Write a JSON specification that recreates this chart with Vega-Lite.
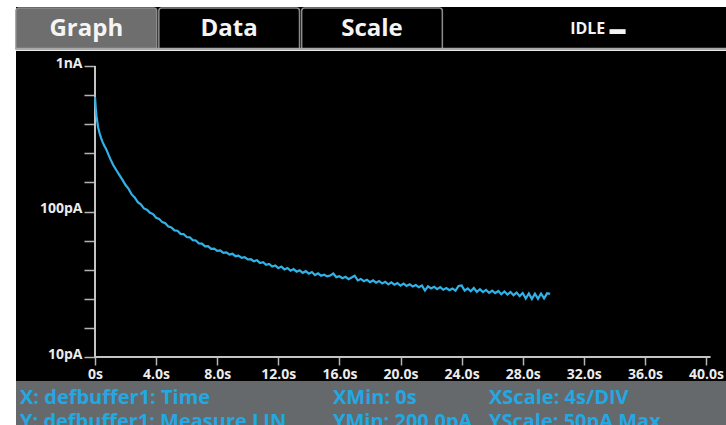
{
  "$schema": "https://vega.github.io/schema/vega-lite/v6.json",
  "background": "white",
  "padding": {"left": 14, "top": 7, "right": 0, "bottom": 0},
  "spacing": 0,
  "config": {"view": {"stroke": null}, "font": "Open Sans", "concat": {"spacing": 0}},
  "vconcat": [
    {
      "width": 712,
      "height": 43,
      "view": {"fill": "black", "stroke": null},
      "layer": [
        {
          "data": {"values": [{"tab": "Graph", "active": true}, {"tab": "Data", "active": false}, {"tab": "Scale", "active": false}]},
          "mark": {"type": "rect", "stroke": "#8c8c8c", "strokeWidth": 1.5, "cornerRadiusTopLeft": 3, "cornerRadiusTopRight": 3},
          "encoding": {
            "x": {"field": "tab", "type": "nominal", "scale": {"domain": ["Graph", "Data", "Scale", "s1", "s2"], "paddingInner": 0.015, "paddingOuter": 0}, "axis": null},
            "y": {"value": 1},
            "y2": {"value": 42},
            "fill": {"condition": {"test": "datum.active", "value": "#6e6e6e"}, "value": "#000000"}
          }
        },
        {
          "data": {"values": [{"tab": "Graph"}, {"tab": "Data"}, {"tab": "Scale"}]},
          "mark": {"type": "text", "font": "Open Sans", "fontWeight": "bold", "fontSize": 24, "color": "#f4f4f4", "baseline": "alphabetic"},
          "encoding": {
            "x": {"field": "tab", "type": "nominal", "axis": null},
            "y": {"value": 29},
            "text": {"field": "tab"}
          }
        },
        {
          "data": {"values": [{"tab": "s1", "status": "IDLE ▬"}]},
          "mark": {"type": "text", "font": "Open Sans", "fontWeight": "bold", "fontSize": 16, "color": "#f4f4f4", "baseline": "alphabetic", "align": "left", "dx": -15},
          "encoding": {
            "x": {"field": "tab", "type": "nominal", "bandPosition": 1, "axis": null},
            "y": {"value": 27},
            "text": {"field": "status"}
          }
        },
        {
          "data": {"values": [{}]},
          "mark": {"type": "rule", "color": "#a9a9a9", "strokeWidth": 2.5},
          "encoding": {"y": {"value": 42}}
        }
      ]
    },
    {
      "width": 712,
      "height": 330,
      "view": {"fill": "black", "stroke": null},
      "layer": [
        {
          "data": {"values": [{}]},
          "mark": {"type": "rule", "color": "#c4c4c4", "strokeWidth": 2},
          "encoding": {
            "x": {"datum": 0, "type": "quantitative", "scale": {"domain": [-5.172, 41.44], "nice": false, "zero": false}},
            "x2": {"datum": 40.3},
            "y": {"datum": 10, "type": "quantitative", "scale": {"type": "log", "domain": [6.84, 1268.3], "nice": false}}
          }
        },
        {
          "data": {"values": [{}]},
          "mark": {"type": "rule", "color": "#c4c4c4", "strokeWidth": 2},
          "encoding": {
            "x": {"datum": 0, "type": "quantitative", "scale": {"domain": [-5.172, 41.44], "nice": false, "zero": false}},
            "y": {"datum": 10, "type": "quantitative", "scale": {"type": "log", "domain": [6.84, 1268.3], "nice": false}},
            "y2": {"datum": 1000}
          }
        },
        {
          "data": {"values": [
            {"t": 0.0, "i": 612}, {"t": 0.05, "i": 510}, {"t": 0.1, "i": 450}, {"t": 0.2, "i": 380}, {"t": 0.3, "i": 345},
            {"t": 0.4, "i": 320}, {"t": 0.5, "i": 300}, {"t": 0.6, "i": 284}, {"t": 0.7, "i": 272}, {"t": 0.8, "i": 258},
            {"t": 0.9, "i": 243}, {"t": 1.0, "i": 230}, {"t": 1.2, "i": 208}, {"t": 1.4, "i": 192}, {"t": 1.6, "i": 178},
            {"t": 1.8, "i": 165}, {"t": 2.0, "i": 152}, {"t": 2.2, "i": 143}, {"t": 2.4, "i": 131}, {"t": 2.6, "i": 125},
            {"t": 2.8, "i": 116}, {"t": 3.0, "i": 112}, {"t": 3.2, "i": 105}, {"t": 3.4, "i": 103}, {"t": 3.6, "i": 98},
            {"t": 3.8, "i": 96}, {"t": 4.0, "i": 90.5}, {"t": 4.2, "i": 89}, {"t": 4.4, "i": 84.5}, {"t": 4.6, "i": 83},
            {"t": 4.8, "i": 78.8}, {"t": 5.0, "i": 77.8}, {"t": 5.2, "i": 74.2}, {"t": 5.4, "i": 73.8}, {"t": 5.6, "i": 70.2},
            {"t": 5.8, "i": 70.0}, {"t": 6.0, "i": 66.8}, {"t": 6.2, "i": 66.5}, {"t": 6.4, "i": 63.6}, {"t": 6.6, "i": 63.2},
            {"t": 6.8, "i": 60.3}, {"t": 7.0, "i": 60.2}, {"t": 7.2, "i": 57.6}, {"t": 7.4, "i": 57.8}, {"t": 7.6, "i": 55.4},
            {"t": 7.8, "i": 55.6}, {"t": 8.0, "i": 53.6}, {"t": 8.2, "i": 54.0}, {"t": 8.4, "i": 52.0}, {"t": 8.6, "i": 52.4},
            {"t": 8.8, "i": 50.6}, {"t": 9.0, "i": 51.2}, {"t": 9.2, "i": 49.3}, {"t": 9.4, "i": 49.8}, {"t": 9.6, "i": 48.0},
            {"t": 9.8, "i": 48.5}, {"t": 10.0, "i": 46.8}, {"t": 10.2, "i": 47.0}, {"t": 10.4, "i": 45.5}, {"t": 10.6, "i": 46.2},
            {"t": 10.8, "i": 44.2}, {"t": 11.0, "i": 44.8}, {"t": 11.2, "i": 43.0}, {"t": 11.4, "i": 43.6}, {"t": 11.6, "i": 41.9},
            {"t": 11.8, "i": 42.6}, {"t": 12.0, "i": 40.8}, {"t": 12.2, "i": 41.8}, {"t": 12.4, "i": 40.0}, {"t": 12.6, "i": 40.9},
            {"t": 12.8, "i": 39.2}, {"t": 13.0, "i": 40.2}, {"t": 13.2, "i": 38.6}, {"t": 13.4, "i": 39.4}, {"t": 13.6, "i": 37.9},
            {"t": 13.8, "i": 38.9}, {"t": 14.0, "i": 37.4}, {"t": 14.2, "i": 38.4}, {"t": 14.4, "i": 36.6}, {"t": 14.6, "i": 37.6},
            {"t": 14.8, "i": 36.2}, {"t": 15.0, "i": 36.8}, {"t": 15.2, "i": 35.8}, {"t": 15.4, "i": 36.3}, {"t": 15.6, "i": 37.5},
            {"t": 15.8, "i": 35.4}, {"t": 16.0, "i": 35.9}, {"t": 16.2, "i": 34.8}, {"t": 16.4, "i": 35.6}, {"t": 16.6, "i": 34.3},
            {"t": 16.8, "i": 35.2}, {"t": 17.0, "i": 36.2}, {"t": 17.2, "i": 33.6}, {"t": 17.4, "i": 34.4}, {"t": 17.6, "i": 33.2},
            {"t": 17.8, "i": 34.0}, {"t": 18.0, "i": 32.7}, {"t": 18.2, "i": 33.6}, {"t": 18.4, "i": 32.4}, {"t": 18.6, "i": 33.3},
            {"t": 18.8, "i": 32.0}, {"t": 19.0, "i": 32.9}, {"t": 19.2, "i": 31.6}, {"t": 19.4, "i": 32.6}, {"t": 19.6, "i": 31.4},
            {"t": 19.8, "i": 32.2}, {"t": 20.0, "i": 30.9}, {"t": 20.2, "i": 31.9}, {"t": 20.4, "i": 30.8}, {"t": 20.6, "i": 31.6},
            {"t": 20.8, "i": 30.5}, {"t": 21.0, "i": 31.2}, {"t": 21.2, "i": 30.2}, {"t": 21.4, "i": 31.0}, {"t": 21.6, "i": 28.6},
            {"t": 21.8, "i": 30.6}, {"t": 22.0, "i": 29.6}, {"t": 22.2, "i": 30.4}, {"t": 22.4, "i": 29.3}, {"t": 22.6, "i": 30.2},
            {"t": 22.8, "i": 29.0}, {"t": 23.0, "i": 29.8}, {"t": 23.2, "i": 28.8}, {"t": 23.4, "i": 29.6}, {"t": 23.6, "i": 28.6},
            {"t": 23.8, "i": 30.8}, {"t": 24.0, "i": 31.0}, {"t": 24.2, "i": 28.6}, {"t": 24.4, "i": 29.6}, {"t": 24.6, "i": 28.3},
            {"t": 24.8, "i": 29.8}, {"t": 25.0, "i": 28.0}, {"t": 25.2, "i": 29.2}, {"t": 25.4, "i": 27.9}, {"t": 25.6, "i": 28.9},
            {"t": 25.8, "i": 27.6}, {"t": 26.0, "i": 28.6}, {"t": 26.2, "i": 27.5}, {"t": 26.4, "i": 28.4}, {"t": 26.6, "i": 27.0},
            {"t": 26.8, "i": 28.2}, {"t": 27.0, "i": 26.9}, {"t": 27.2, "i": 28.0}, {"t": 27.4, "i": 26.6}, {"t": 27.6, "i": 27.7},
            {"t": 27.8, "i": 26.2}, {"t": 28.0, "i": 27.5}, {"t": 28.2, "i": 25.2}, {"t": 28.4, "i": 27.3}, {"t": 28.6, "i": 25.0},
            {"t": 28.8, "i": 27.2}, {"t": 29.0, "i": 25.1}, {"t": 29.2, "i": 27.3}, {"t": 29.4, "i": 25.3}, {"t": 29.6, "i": 27.4},
            {"t": 29.8, "i": 27.2}
          ]},
          "mark": {"type": "line", "color": "#2fb2e8", "strokeWidth": 2.2},
          "encoding": {
            "x": {
              "field": "t", "type": "quantitative",
              "scale": {"domain": [-5.172, 41.44], "nice": false, "zero": false},
              "axis": {
                "orient": "bottom", "offset": -24, "values": [0, 4, 8, 12, 16, 20, 24, 28, 32, 36, 40],
                "labelExpr": "datum.value == 0 ? '0s' : format(datum.value, '.1f') + 's'",
                "domain": false, "grid": false, "tickSize": 8, "tickColor": "#b5b5b5", "tickWidth": 1.5,
                "labelPadding": 2, "labelFont": "Open Sans", "labelFontWeight": "bold", "labelFontSize": 14,
                "labelColor": "#ececec", "labelFlush": false, "labelOverlap": false, "title": null
              }
            },
            "y": {
              "field": "i", "type": "quantitative",
              "scale": {"type": "log", "domain": [6.84, 1268.3], "nice": false},
              "axis": {
                "orient": "left", "offset": -79,
                "values": [10, 15.849, 25.119, 39.811, 63.096, 100, 158.49, 251.19, 398.11, 630.96, 1000],
                "labelExpr": "datum.value == 1000 ? '1nA' : datum.value == 100 ? '100pA' : datum.value == 10 ? '10pA' : ''",
                "domain": false, "grid": false, "tickSize": 11, "tickColor": "#b5b5b5", "tickWidth": 1.5,
                "labelPadding": 2, "labelBaseline": "alphabetic", "labelOffset": 1,
                "labelFont": "Open Sans", "labelFontWeight": "bold", "labelFontSize": 14,
                "labelColor": "#ececec", "labelFlush": false, "labelOverlap": false, "title": null
              }
            }
          }
        }
      ]
    },
    {
      "width": 712,
      "height": 45,
      "view": {"fill": "#66696b", "stroke": null},
      "data": {"values": [
        {"row": "X", "col": 1, "label": "X: defbuffer1: Time"},
        {"row": "X", "col": 2, "label": "XMin: 0s"},
        {"row": "X", "col": 3, "label": "XScale: 4s/DIV"},
        {"row": "Y", "col": 1, "label": "Y: defbuffer1: Measure LIN"},
        {"row": "Y", "col": 2, "label": "YMin: 200.0pA"},
        {"row": "Y", "col": 3, "label": "YScale: 50pA Max"}
      ]},
      "mark": {"type": "text", "font": "Open Sans", "fontWeight": "bold", "fontSize": 20, "color": "#22a8e2", "align": "left", "baseline": "alphabetic", "clip": true},
      "encoding": {
        "x": {"field": "col", "type": "quantitative", "scale": {"domain": [1, 2, 3], "range": [4, 317, 473], "nice": false, "zero": false}, "axis": null},
        "y": {"field": "row", "type": "nominal", "scale": {"type": "point", "domain": ["X", "Y"], "range": [23, 47], "padding": 0}, "axis": null},
        "text": {"field": "label"}
      }
    }
  ]
}
